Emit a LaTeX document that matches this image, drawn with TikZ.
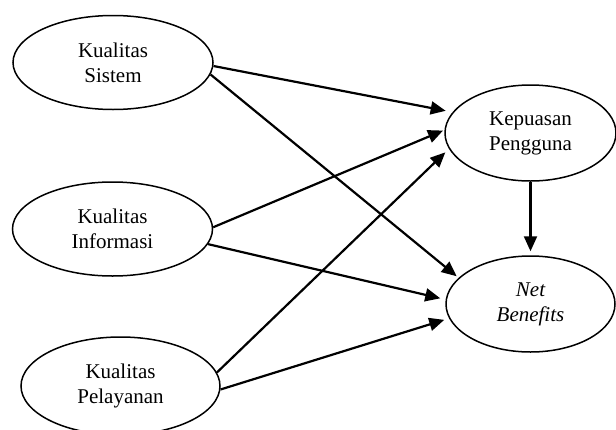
\documentclass[tikz,border=0pt]{standalone}
\usepackage{fontspec}
\setmainfont{Liberation Serif}
\usetikzlibrary{shapes.geometric,arrows.meta}
\begin{document}
\begin{tikzpicture}[x=1pt,y=-1pt,
  var/.style={ellipse, draw, line width=1.5pt, inner sep=0pt, align=center,
    font=\fontsize{21}{24.8}\selectfont},
  leftvar/.style={var, minimum width=200pt, minimum height=94pt},
  rightvar/.style={var, minimum width=171pt, minimum height=96pt},
  link/.style={line width=2.2pt, -{Triangle[length=15pt,width=13pt]}}]
\useasboundingbox (0,0) rectangle (616,429);
\clip (0,0) rectangle (616,429);
\node[leftvar] (s) at (113,62.5) {Kualitas\\Sistem};
\node[leftvar] (i) at (112.5,229) {Kualitas\\Informasi};
\node[leftvar, minimum width=199pt, minimum height=98pt] (p) at (120.5,386) {Kualitas\\Pelayanan};
\node[rightvar] (k) at (530.5,133) {Kepuasan\\Pengguna};
\node[rightvar, minimum width=169pt] (n) at (530.5,304) {\itshape Net\\\itshape Benefits};
\draw[link, shorten >=7pt] (s.-2) -- (k.165);
\draw[link, shorten >=2.5pt] (s.-7) -- (n.160);
\draw[link, shorten >=1.5pt] (i.1) -- (k.178);
\draw[link, shorten >=5.5pt] (i.-9) -- (n.177);
\draw[link, shorten >=5pt] (p.8) -- (k.191);
\draw[link, shorten >=5pt] (p.-2) -- (n.190);
\draw[link, shorten >=4pt] (k) -- (n);
\end{tikzpicture}
\end{document}
